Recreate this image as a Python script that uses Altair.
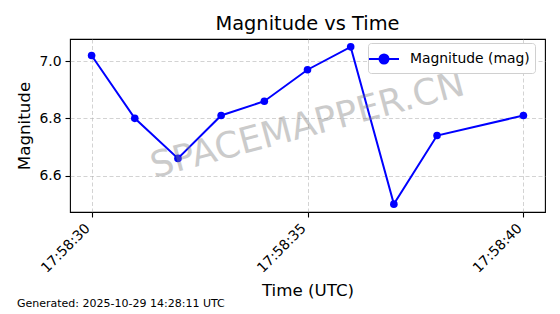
import altair as alt
import pandas as pd

# ---- data ----
obs_date = "2025-10-29"
times = ["17:58:30", "17:58:31", "17:58:32", "17:58:33", "17:58:34",
         "17:58:35", "17:58:36", "17:58:37", "17:58:38", "17:58:40"]
magnitudes = [7.02, 6.80, 6.66, 6.81, 6.86, 6.97, 7.05, 6.50, 6.74, 6.81]
series_name = "Magnitude (mag)"
x_tick_times = ["17:58:30", "17:58:35", "17:58:40"]
y_ticks = [6.6, 6.8, 7.0]
chart_title = "Magnitude vs Time"
x_title = "Time (UTC)"
y_title = "Magnitude"
footer_text = ["Generated: 2025-10-29 14:28:11 UTC"]
watermark_text = ["SPACEMAPPER.CN"]

FONT = "DejaVu Sans"


def to_dt(t, ms=0):
    h, m, s = (int(v) for v in t.split(":"))
    y, mo, d = (int(v) for v in obs_date.split("-"))
    return alt.DateTime(year=y, month=mo, date=d, hours=h, minutes=m,
                        seconds=s, milliseconds=ms, utc=True)


df = pd.DataFrame({
    "time": [f"{obs_date}T{t}Z" for t in times],
    "mag": magnitudes,
    "series": [series_name] * len(times),
})

x_domain = [to_dt("17:58:29", 500), to_dt("17:58:40", 500)]
y_domain = [6.4725, 7.0775]

legend_symbol = ("M-1.5,0H1.5M0.45,0A0.45,0.45,0,1,1,-0.45,0"
                 "A0.45,0.45,0,1,1,0.45,0Z")

x_enc = alt.X(
    "time:T",
    scale=alt.Scale(type="utc", domain=x_domain),
    axis=alt.Axis(
        values=[to_dt(t) for t in x_tick_times],
        format="%H:%M:%S",
        labelAngle=315, labelAlign="right", labelBaseline="top",
        labelPadding=4, labelOffset=-9,
        title=x_title, titleX=237.5, titleY=83, titleBaseline="alphabetic",
        titleAnchor="middle", titleAlign="center",
    ),
)
y_enc = alt.Y(
    "mag:Q",
    scale=alt.Scale(domain=y_domain, nice=False, zero=False),
    axis=alt.Axis(
        values=y_ticks, format=".1f", labelPadding=4,
        title=y_title, titleX=-46, titleY=86.5, titleAngle=270,
        titleAlign="center", titleBaseline="middle",
    ),
)
color_enc = alt.Color(
    "series:N",
    scale=alt.Scale(domain=[series_name], range=["blue"]),
    legend=alt.Legend(
        title=None, orient="none", legendX=298, legendY=4,
        symbolType=legend_symbol, symbolSize=400, symbolStrokeWidth=2,
        symbolFillColor="blue", symbolStrokeColor="blue",
        labelFont=FONT, labelFontSize=13.9, labelColor="black",
        labelOffset=15, padding=5,
        strokeColor="#d0d0d0", fillColor="white", cornerRadius=3,
    ),
)

base = alt.Chart(df)
line = base.mark_line(strokeWidth=2).encode(x=x_enc, y=y_enc, color=color_enc)
points = base.mark_point(filled=True, size=58, opacity=1).encode(
    x=x_enc, y=y_enc, color=color_enc)

watermark = alt.Chart(pd.DataFrame({"t": watermark_text})).mark_text(
    font=FONT, fontSize=36, angle=345, color="gray", opacity=0.4,
    align="center", baseline="middle",
).encode(text="t:N", x=alt.value(237.5), y=alt.value(86.5))

footer = alt.Chart(pd.DataFrame({"t": footer_text})).mark_text(
    font=FONT, fontSize=11, color="black", align="left", baseline="alphabetic",
).encode(text="t:N", x=alt.value(-53), y=alt.value(268))

chart = alt.layer(line, points, watermark, footer).properties(
    width=475, height=173,
    autosize="none",
    padding={"left": 70, "top": 39, "right": 15, "bottom": 102},
    title=alt.TitleParams(chart_title, font=FONT, fontSize=19.4,
                          fontWeight="normal", color="black",
                          anchor="middle", baseline="alphabetic",
                          offset=9, dy=19),
).configure_view(
    stroke="black", strokeWidth=1.1,
).configure_axis(
    domain=False, grid=True, gridColor="#b0b0b0", gridOpacity=0.7,
    gridDash=[4, 2.5], gridWidth=0.8,
    tickColor="black", tickSize=5, tickWidth=1.1,
    labelColor="black", labelFont=FONT, labelFontSize=13.9,
    titleFont=FONT, titleFontSize=16.7, titleFontWeight="normal",
    titleColor="black",
)

chart.save("out.html", embed_options={"renderer": "svg", "actions": False})
